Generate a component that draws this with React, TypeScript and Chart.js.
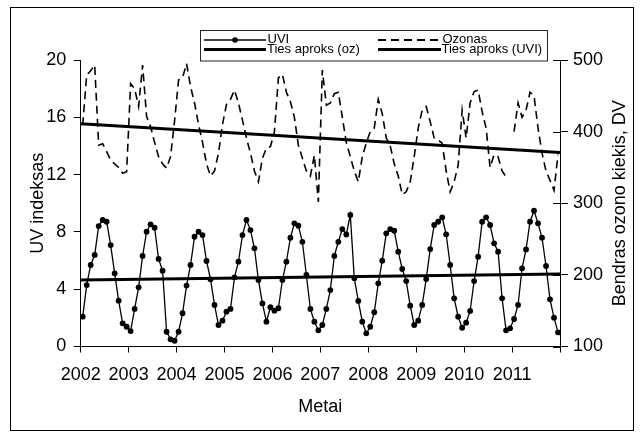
import { useEffect, useRef } from 'react';
import { Chart, registerables } from 'chart.js';

Chart.register(...registerables);

const FONT = "'Liberation Sans', Arial, Helvetica, sans-serif";
const INK = '#000';

// Year tick labels (one per 12 months)
const yearLabels = ['2002', '2003', '2004', '2005', '2006', '2007', '2008', '2009', '2010', '2011'];

// Monthly UV index, Jan 2002 .. Dec 2011
const uvi = [
  2.08, 4.29, 5.69, 6.39, 8.41, 8.83, 8.71, 7.08, 5.11, 3.2, 1.62, 1.38,
  1.08, 2.62, 4.13, 6.32, 8.01, 8.53, 8.29, 6.11, 5.29, 1.03, 0.5, 0.4,
  1.03, 2.32, 4.25, 5.69, 7.66, 8.01, 7.78, 5.97, 4.69, 2.9, 1.5, 1.8,
  2.43, 2.62, 4.83, 5.92, 7.78, 8.83, 8.13, 6.85, 4.64, 3.01, 1.73, 2.74,
  2.5, 2.67, 4.64, 5.92, 7.59, 8.6, 8.43, 7.31, 4.99, 2.62, 1.73, 1.13,
  1.5, 2.62, 3.94, 6.32, 7.31, 8.2, 7.82, 9.18, 4.76, 3.18, 1.73, 0.92,
  1.38, 2.39, 4.41, 5.99, 7.9, 8.2, 8.08, 6.62, 5.41, 4.57, 2.85, 1.5,
  1.8, 2.9, 4.71, 6.8, 8.48, 8.71, 9.02, 7.83, 5.69, 3.36, 2.08, 1.31,
  1.66, 2.48, 4.57, 6.27, 8.71, 9.02, 8.48, 7.2, 6.62, 3.36, 1.13, 1.27,
  1.92, 2.9, 5.46, 6.78, 8.71, 9.48, 8.6, 7.59, 5.62, 3.29, 2.01, 0.99,
];

// Monthly total ozone (DV), Jan 2002 .. Dec 2011
const ozone: (number | null)[] = [
  409, 479, 485, 493, 381, 383, 372, 360, 355, 350, 342, 344,
  467, 460, 435, 493, 421, 407, 385, 365, 355, 349, 365, 415,
  472, 475, 495, 463, 440, 410, 385, 355, 338, 345, 370, 410,
  438, 445, 458, 440, 416, 391, 370, 345, 330, 363, 377, 379,
  400, 475, 480, 455, 442, 420, 381, 363, 345, 338, 367, 302,
  486, 437, 440, 453, 455, 420, 385, 365, 345, 330, 365, 384,
  400, 405, 445, 425, 391, 380, 355, 338, 312, 316, 330, 365,
  405, 430, 435, 414, 391, 388, 384, 345, 316, 330, 353, 430,
  391, 440, 456, 458, 428, 405, 350, 368, 365, 345, 337, null,
  400, 440, 420, 430, 455, 450, 405, 370, 345, 332, 318, 368,
];

// Linear trends: values at start and end of the period (month index 0 and 120)
const trendX = [0, 120];
const ozoneTrend = [411, 371];
const uviTrend = [4.64, 5.06];

const legendItems = ['UVI', 'Ozonas', 'Ties aproks (oz)', 'Ties aproks (UVI)'];
const leftTitle = 'UV indeksas';
const rightTitle = 'Bendras ozono kiekis, DV';
const bottomTitle = 'Metai';

const decor = {
  id: 'decor',
  beforeDraw(chart: any) {
    const ctx = chart.ctx;
    ctx.save();
    ctx.fillStyle = '#fff';
    ctx.fillRect(0, 0, chart.width, chart.height);
    ctx.strokeStyle = INK;
    ctx.lineWidth = 1;
    ctx.strokeRect(10.5, 7.5, 623, 423);
    ctx.restore();
  },
  afterDraw(chart: any) {
    const ctx = chart.ctx;
    const y1 = chart.scales.y1;
    const area = chart.chartArea;
    ctx.save();
    // inner half of the crossing ticks on the right axis
    ctx.strokeStyle = INK;
    ctx.lineWidth = 1;
    y1.ticks.forEach((_t: any, i: number) => {
      const py = Math.round(y1.getPixelForTick(i)) + 0.5;
      ctx.beginPath();
      ctx.moveTo(area.right - 7, py);
      ctx.lineTo(area.right, py);
      ctx.stroke();
    });
    // right axis title, reading bottom to top
    ctx.save();
    ctx.translate(620.5, (area.top + area.bottom) / 2);
    ctx.rotate(-Math.PI / 2);
    ctx.font = `18px ${FONT}`;
    ctx.fillStyle = INK;
    ctx.textAlign = 'center';
    ctx.textBaseline = 'middle';
    ctx.fillText(rightTitle, 0, 0);
    ctx.restore();

    // legend box
    ctx.fillStyle = '#fff';
    ctx.fillRect(200.5, 30.5, 347, 30.5);
    ctx.strokeStyle = '#222';
    ctx.lineWidth = 1;
    ctx.strokeRect(200.5, 30.5, 347, 30.5);

    const r1 = 40;
    const r2 = 49.5;
    ctx.strokeStyle = INK;
    // UVI sample
    ctx.lineWidth = 1.3;
    ctx.beginPath();
    ctx.moveTo(204, r1);
    ctx.lineTo(266, r1);
    ctx.stroke();
    ctx.fillStyle = INK;
    ctx.beginPath();
    ctx.arc(235, r1, 2.8, 0, Math.PI * 2);
    ctx.fill();
    // Ozonas sample
    ctx.lineWidth = 2;
    ctx.setLineDash([8, 5]);
    ctx.beginPath();
    ctx.moveTo(378, r1);
    ctx.lineTo(439, r1);
    ctx.stroke();
    ctx.setLineDash([]);
    // trend samples
    ctx.lineWidth = 3;
    ctx.beginPath();
    ctx.moveTo(204, r2);
    ctx.lineTo(266, r2);
    ctx.moveTo(378, r2);
    ctx.lineTo(441, r2);
    ctx.stroke();

    ctx.font = `13px ${FONT}`;
    ctx.fillStyle = INK;
    ctx.textAlign = 'left';
    ctx.textBaseline = 'alphabetic';
    ctx.fillText(legendItems[0], 267.5, 43);
    ctx.fillText(legendItems[1], 442.5, 43);
    ctx.fillText(legendItems[2], 267, 52.5);
    ctx.fillText(legendItems[3], 441.5, 52.5);
    ctx.restore();
  },
};

export default function App() {
  const ref = useRef<HTMLCanvasElement | null>(null);

  useEffect(() => {
    if (!ref.current) return;
    const tickFont = { family: FONT, size: 18 };
    const chart = new Chart(ref.current, {
      type: 'line',
      data: {
        datasets: [
          {
            label: legendItems[0],
            data: uvi.map((v, i) => ({ x: i + 0.5, y: v })),
            yAxisID: 'y',
            borderColor: INK,
            borderWidth: 1.3,
            pointRadius: 2.9,
            pointBackgroundColor: INK,
            pointBorderWidth: 0,
            tension: 0,
          },
          {
            label: legendItems[1],
            data: ozone.map((v, i) => ({ x: i + 0.5, y: v })),
            yAxisID: 'y1',
            borderColor: INK,
            borderWidth: 1.6,
            borderDash: [8, 5],
            pointRadius: 0,
            spanGaps: false,
            tension: 0,
          },
          {
            label: legendItems[2],
            data: trendX.map((x, i) => ({ x, y: ozoneTrend[i] })),
            yAxisID: 'y1',
            borderColor: INK,
            borderWidth: 3,
            pointRadius: 0,
          },
          {
            label: legendItems[3],
            data: trendX.map((x, i) => ({ x, y: uviTrend[i] })),
            yAxisID: 'y',
            borderColor: INK,
            borderWidth: 3,
            pointRadius: 0,
          },
        ],
      },
      options: {
        responsive: false,
        animation: false,
        layout: { padding: { top: 60, left: 0, right: 0, bottom: 0 } },
        plugins: { legend: { display: false }, tooltip: { enabled: false } },
        scales: {
          x: {
            type: 'linear',
            min: 0,
            max: 120,
            ticks: {
              stepSize: 12,
              autoSkip: false,
              maxRotation: 0,
              padding: 12,
              color: INK,
              font: tickFont,
              callback: (v: any) => (v < 120 ? yearLabels[Math.round(v / 12)] : ''),
            },
            grid: { drawOnChartArea: false, drawTicks: true, tickLength: 6, color: INK, lineWidth: 1 },
            border: { display: true, color: INK, width: 1 },
            title: { display: true, text: bottomTitle, color: INK, font: tickFont, padding: { top: 0, bottom: 19 } },
            afterFit: (s: any) => {
              s.height = 90.5;
            },
          },
          y: {
            position: 'left',
            min: 0,
            max: 20,
            ticks: { stepSize: 4, padding: 7.5, color: INK, font: tickFont },
            grid: { drawOnChartArea: false, drawTicks: true, tickLength: 7, color: INK, lineWidth: 1 },
            border: { display: true, color: INK, width: 1 },
            title: { display: true, text: leftTitle, color: INK, font: tickFont, padding: { top: 27, bottom: 0 } },
            afterFit: (s: any) => {
              s.width = 80.7;
            },
          },
          y1: {
            position: 'right',
            min: 100,
            max: 500,
            ticks: { stepSize: 100, padding: 5, color: INK, font: tickFont },
            grid: { drawOnChartArea: false, drawTicks: true, tickLength: 8, color: INK, lineWidth: 1 },
            border: { display: true, color: INK, width: 1 },
            afterFit: (s: any) => {
              s.width = 84;
            },
          },
        },
      } as any,
      plugins: [decor],
    });
    return () => chart.destroy();
  }, []);

  return (
    <div style={{ position: 'absolute', left: 0, top: 0, width: 644, height: 437 }}>
      <canvas ref={ref} width={644} height={437} style={{ display: 'block', width: 644, height: 437 }} />
    </div>
  );
}
